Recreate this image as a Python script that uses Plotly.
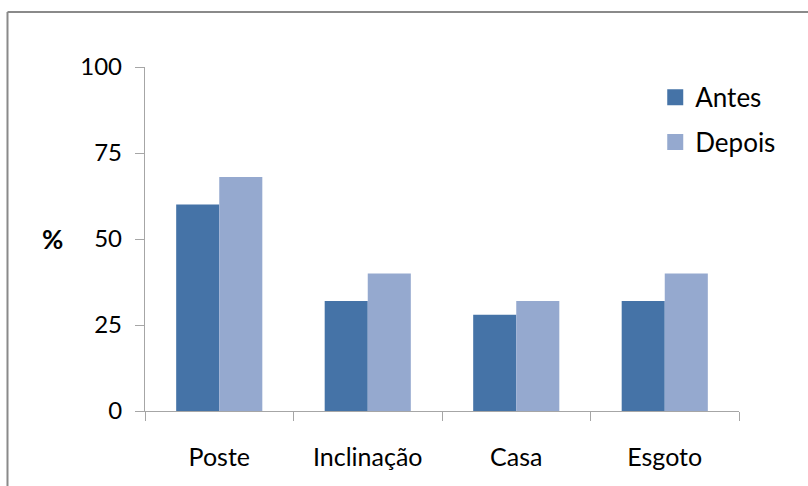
import plotly.graph_objects as go

categories = ["Poste", "Inclinação", "Casa", "Esgoto"]
antes = [60, 32, 28, 32]
depois = [68, 40, 32, 40]
y_ticks = [0, 25, 50, 75, 100]
series_names = ["Antes", "Depois"]
series_colors = ["#4573a7", "#95a9cf"]

FONT = "Lato"
AXIS_COLOR = "#a6a6a6"

fig = go.Figure()
for name, vals, col in zip(series_names, [antes, depois], series_colors):
    fig.add_trace(go.Bar(name=name, x=categories, y=vals,
                         marker=dict(color=col, line=dict(width=0)),
                         showlegend=False))
# legend entries with larger square swatches
for name, col in zip(series_names, series_colors):
    fig.add_trace(go.Scatter(name=name, x=[None], y=[None], mode="markers",
                             marker=dict(symbol="square", size=16, color=col),
                             legendgroup=name, hoverinfo="skip"))

fig.update_layout(
    width=808, height=486,
    margin=dict(l=145, r=69, t=67, b=75),
    paper_bgcolor="white", plot_bgcolor="white",
    barmode="group", bargap=0.42, bargroupgap=0,
    font=dict(family=FONT, size=24, color="black"),
    showlegend=True,
    legend=dict(x=0.859, y=0.98, xanchor="left", yanchor="top",
                font=dict(size=26), tracegroupgap=8, itemsizing="trace",
                bgcolor="rgba(0,0,0,0)"),
    xaxis=dict(showline=True, linecolor=AXIS_COLOR, linewidth=1.3,
               ticks="outside", tickson="boundaries", ticklen=9,
               tickcolor=AXIS_COLOR, tickwidth=1.3, showgrid=False,
               ticklabelstandoff=24, tickfont=dict(size=25)),
    yaxis=dict(range=[0, 100], tickvals=y_ticks, showline=True,
               linecolor=AXIS_COLOR, linewidth=1.3, ticks="outside",
               ticklen=9, tickcolor=AXIS_COLOR, tickwidth=1.3,
               showgrid=False, zeroline=False, ticklabelstandoff=8),
    annotations=[dict(text="<b>%</b>", xref="paper", yref="paper",
                      x=-0.177, y=0.5, showarrow=False,
                      font=dict(size=26))],
    shapes=[
        dict(type="line", xref="paper", yref="paper",
             x0=-0.2315, x1=-0.2315, y0=1.16, y1=-0.3,
             line=dict(color="#8a8a8a", width=2)),
        dict(type="line", xref="paper", yref="paper",
             x0=-0.2315, x1=1.2, y0=1.16, y1=1.16,
             line=dict(color="#8a8a8a", width=2)),
    ],
)

fig.write_html("out.html")
